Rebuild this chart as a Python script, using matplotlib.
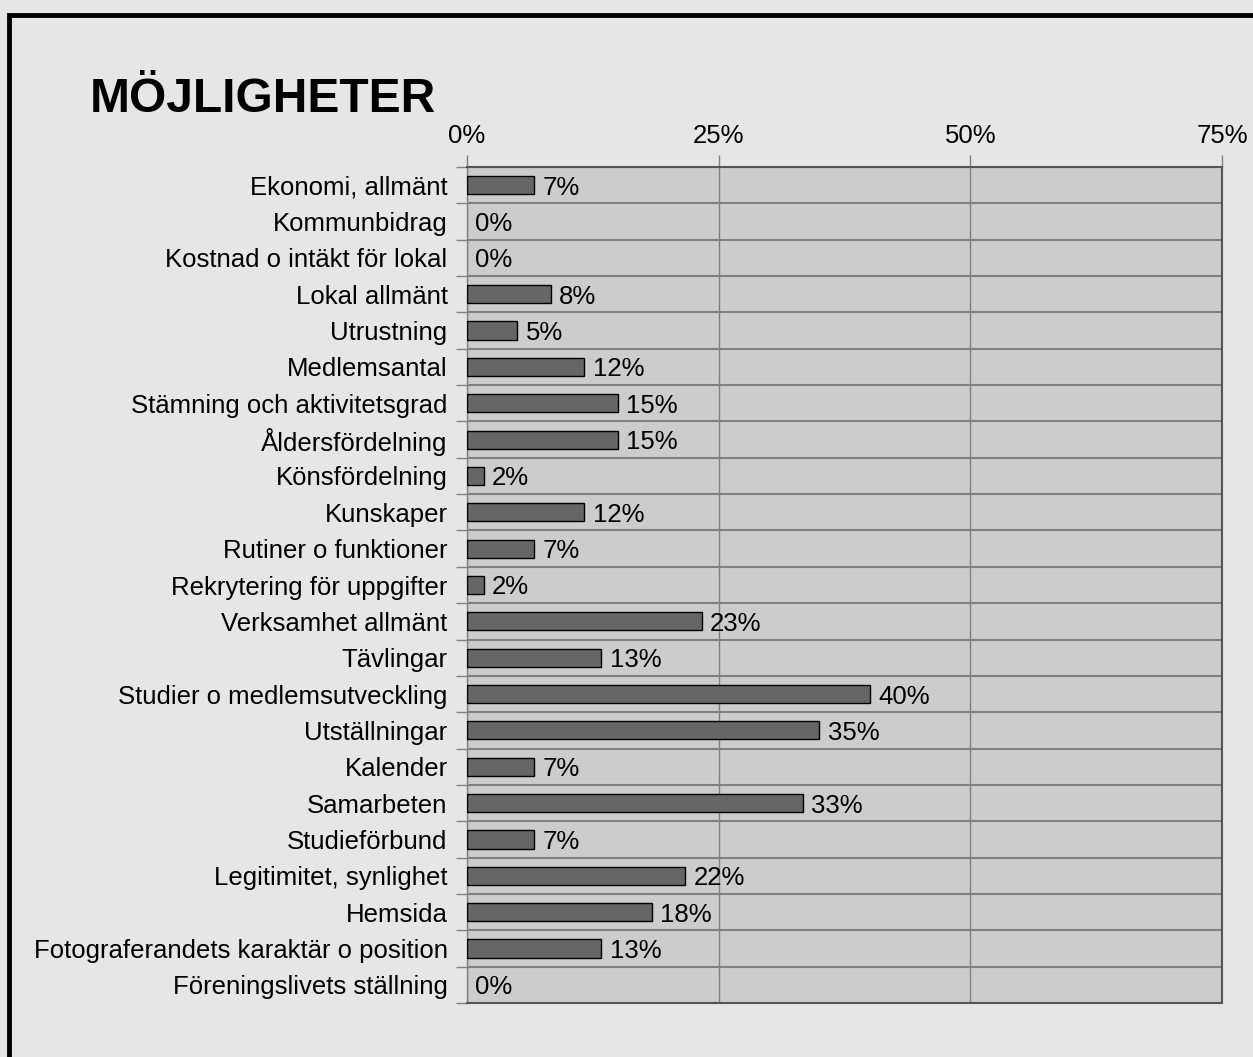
import matplotlib.pyplot as plt
import matplotlib.patches as mpatches
import numpy as np

plt.rcParams['font.family'] = ['Liberation Sans', 'DejaVu Sans']

# Data (percent of respondents)
categories = [
    "Ekonomi, allmänt", "Kommunbidrag", "Kostnad o intäkt för lokal",
    "Lokal allmänt", "Utrustning", "Medlemsantal",
    "Stämning och aktivitetsgrad", "Åldersfördelning", "Könsfördelning",
    "Kunskaper", "Rutiner o funktioner", "Rekrytering för uppgifter",
    "Verksamhet allmänt", "Tävlingar", "Studier o medlemsutveckling",
    "Utställningar", "Kalender", "Samarbeten", "Studieförbund",
    "Legitimitet, synlighet", "Hemsida",
    "Fotograferandets karaktär o position", "Föreningslivets ställning",
]
values = [6.67, 0, 0, 8.33, 5.0, 11.67, 15.0, 15.0, 1.67, 11.67, 6.67, 1.67,
          23.33, 13.33, 40.0, 35.0, 6.67, 33.33, 6.67, 21.67, 18.33, 13.33, 0]
xticks = [0, 25, 50, 75]

W, H = 1253, 1057
FS = 18.5
fig = plt.figure(figsize=(W / 100, H / 100), dpi=100)
fig.patch.set_facecolor('#e6e6e6')

# outer frame (cropped at right/bottom)
fig.patches.append(mpatches.Rectangle((9 / W, -0.1), 1.2, 1 - 15 / H + 0.1,
                                      transform=fig.transFigure, fill=False,
                                      edgecolor='black', linewidth=3.5))

ax = fig.add_axes([467 / W, 1 - 1003 / H, (1222 - 467) / W, (1003 - 167) / H])
ax.set_facecolor('#cccccc')

y = np.arange(len(categories))
lw = [1.0 if v > 0 else 0 for v in values]
ax.barh(y, values, height=0.5, color='#666666', edgecolor='black',
        linewidth=lw, zorder=3)

for yi, v in zip(y, values):
    ax.annotate(f"{round(v)}%", xy=(v, yi), xytext=(6, 0),
                textcoords='offset points', va='center_baseline', ha='left',
                fontsize=FS, zorder=4)

ax.set_xlim(0, 75)
ax.set_ylim(len(categories) - 0.5, -0.5)

ax.xaxis.tick_top()
ax.set_xticks(xticks)
ax.set_xticklabels([f"{t}%" for t in xticks], fontsize=FS)
ax.tick_params(axis='x', which='major', length=9, width=1, color='#808080',
               pad=5, direction='out')

ax.set_yticks(y)
ax.set_yticklabels(categories, fontsize=FS)
ax.set_yticks(np.arange(len(categories) + 1) - 0.5, minor=True)
ax.tick_params(axis='y', which='major', length=0, pad=14)
ax.tick_params(axis='y', which='minor', length=8, width=1, color='#808080',
               direction='out')

ax.grid(axis='x', which='major', color='#808080', linewidth=1, zorder=1)
ax.grid(axis='y', which='minor', color='#808080', linewidth=1.5, zorder=1)
ax.set_axisbelow(True)

for side in ['top', 'right', 'bottom']:
    ax.spines[side].set_color('#555555')
    ax.spines[side].set_linewidth(1.5)
ax.spines['left'].set_color('#808080')
ax.spines['left'].set_linewidth(1)

fig.text(90 / W, 1 - 112 / H, "MÖJLIGHETER", fontsize=34.5, fontweight='bold',
         va='baseline', ha='left')

fig.savefig("out.png", dpi=100, facecolor=fig.get_facecolor())
